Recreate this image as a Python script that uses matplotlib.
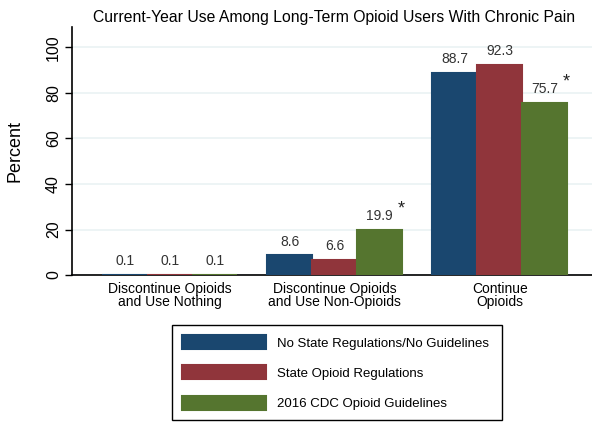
import matplotlib
matplotlib.use("Agg")
import matplotlib.pyplot as plt
import numpy as np

plt.rcParams['font.family'] = ['Liberation Sans', 'DejaVu Sans']

categorias = ["Discontinue Opioids\nand Use Nothing",
              "Discontinue Opioids\nand Use Non-Opioids",
              "Continue\nOpioids"]
series = ["No State Regulations/No Guidelines",
          "State Opioid Regulations",
          "2016 CDC Opioid Guidelines"]
sin_regulacion = [0.1, 8.6, 88.7]
regulacion_estatal = [0.1, 6.6, 92.3]
guia_cdc = [0.1, 19.9, 75.7]
significativo = [False, True, True]  # asterisco sobre la guia CDC

colores = ['#1a476f', '#90353b', '#55752f']

fig = plt.figure(figsize=(5.92, 4.22), dpi=100)
ax = fig.add_axes([0.1216, 0.3483, 0.8784, 0.5877])

x = np.arange(len(categorias))
ancho = 45 / 165
valores = [sin_regulacion, regulacion_estatal, guia_cdc]
barras = []
for i, v in enumerate(valores):
    b = ax.bar(x + (i - 1) * ancho, v, ancho, color=colores[i],
               edgecolor=colores[i], linewidth=1.5, label=series[i], zorder=3)
    barras.append(b)
    for xi, vi in zip(x + (i - 1) * ancho, v):
        ax.text(xi, vi + 3, f"{vi:.1f}", ha='center', va='bottom',
                fontsize=10, color='#333333', zorder=4)

for xi, vi, s in zip(x + ancho, guia_cdc, significativo):
    if s:
        ax.text(xi + 0.13, vi + 5.5, "*", ha='center', va='bottom',
                fontsize=13, color='#222222')

ax.set_xlim(-0.594, 2.56)
ax.set_ylim(0, 109)
ax.set_yticks([0, 20, 40, 60, 80, 100])
ax.set_yticklabels(['0', '20', '40', '60', '80', '100'], rotation=90, va='center')
ax.tick_params(axis='y', labelsize=11.5, length=5, width=1, pad=3)
ax.set_xticks(x)
ax.set_xticklabels(categorias, fontsize=10, linespacing=0.95)
ax.tick_params(axis='x', length=0, pad=5)
ax.grid(axis='y', color='#eaf2f3', linewidth=1.2, zorder=0)
for lado in ['top', 'right']:
    ax.spines[lado].set_visible(False)
ax.spines['left'].set_linewidth(1.2)
ax.spines['bottom'].set_linewidth(1.2)
ax.set_ylabel("Percent", fontsize=13, labelpad=16)
fig.text(0.565, 0.958, "Current-Year Use Among Long-Term Opioid Users With Chronic Pain",
         ha='center', va='center', fontsize=11.3)

leg = fig.legend(handles=barras, labels=series, loc='lower left',
                 bbox_to_anchor=(172 / 592, 2 / 422, 330 / 592, 100 / 422),
                 mode='expand', fontsize=9.5, handlelength=6.4, handleheight=1.25,
                 handletextpad=0.8, labelspacing=1.2, borderpad=0.75,
                 borderaxespad=0, fancybox=False, framealpha=1, edgecolor='black')
leg.get_frame().set_linewidth(1.0)

plt.savefig("out.png", dpi=100)
